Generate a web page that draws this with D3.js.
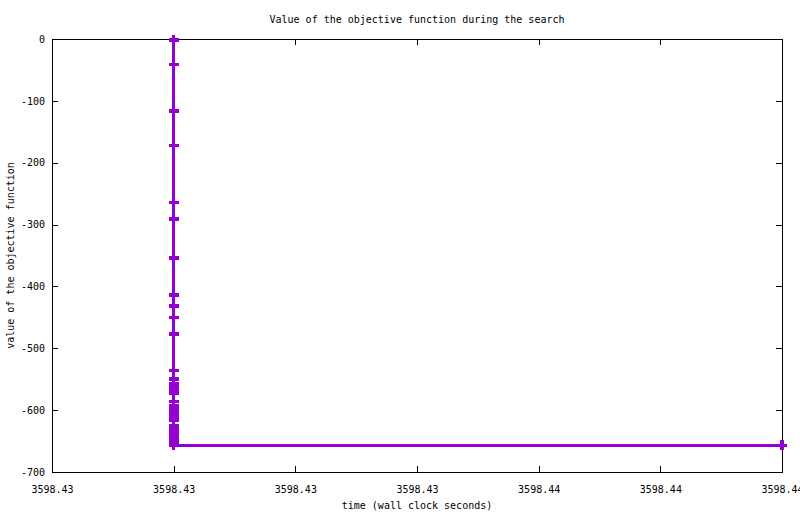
<!DOCTYPE html>
<html lang="en">
<head>
<meta charset="utf-8">
<title>Objective function</title>
<script src="https://d3js.org/d3.v7.min.js"></script>
<style>
  body { margin: 0; background: #fff; }
  text { font-family: "DejaVu Sans Mono", "Liberation Mono", monospace; font-size: 10px; fill: #000; }
</style>
</head>
<body>
<div id="chart"></div>
<script>
// time (wall clock seconds) of each improvement
var times = [
  3598.430, 3598.430, 3598.430, 3598.430, 3598.430, 3598.430, 3598.430, 3598.430,
  3598.430, 3598.430, 3598.430, 3598.430, 3598.430, 3598.430, 3598.430, 3598.430,
  3598.430, 3598.430, 3598.430, 3598.430, 3598.430, 3598.430, 3598.430, 3598.430,
  3598.430, 3598.430, 3598.430, 3598.430, 3598.430, 3598.430, 3598.440
];
// value of the objective function
var values = [
  -2, -41, -116, -172, -264, -291, -354, -414,
  -432, -450, -477, -536, -550, -558, -563, -569,
  -573, -586, -593, -599, -605, -611, -617, -626,
  -631, -637, -643, -648, -654, -657, -657
];
var xTicks = [3598.428, 3598.430, 3598.432, 3598.434, 3598.436, 3598.438, 3598.440];
var yTicks = [0, -100, -200, -300, -400, -500, -600, -700];

var W = 800, H = 514;
var margin = {top: 39, right: 18, bottom: 42, left: 52};

var svg = d3.select("#chart").append("svg")
    .attr("width", W)
    .attr("height", H)
    .attr("shape-rendering", "crispEdges");

var x = d3.scaleLinear()
    .domain([3598.428, 3598.440])
    .range([margin.left, W - margin.right]);
var y = d3.scaleLinear()
    .domain([-700, 0])
    .range([H - margin.bottom, margin.top]);

// axes, ticks pointing inward, mirrored on top and right
var fmtX = d3.format(".2f");
svg.append("g")
    .attr("transform", "translate(0," + (H - margin.bottom) + ")")
    .call(d3.axisBottom(x).tickValues(xTicks).tickSize(-6).tickSizeOuter(0)
        .tickPadding(14).tickFormat(fmtX))
    .call(g => g.select(".domain").remove());
svg.append("g")
    .attr("transform", "translate(0," + margin.top + ")")
    .call(d3.axisTop(x).tickValues(xTicks).tickSize(-6).tickSizeOuter(0).tickFormat(""))
    .call(g => g.select(".domain").remove());
svg.append("g")
    .attr("transform", "translate(" + margin.left + ",0)")
    .call(d3.axisLeft(y).tickValues(yTicks).tickSize(-6).tickSizeOuter(0)
        .tickPadding(7).tickFormat(d => String(d)))
    .call(g => g.select(".domain").remove());
svg.append("g")
    .attr("transform", "translate(" + (W - margin.right) + ",0)")
    .call(d3.axisRight(y).tickValues(yTicks).tickSize(-6).tickSizeOuter(0).tickFormat(""))
    .call(g => g.select(".domain").remove());

svg.selectAll(".tick text")
    .style("font-family", "'DejaVu Sans Mono', monospace")
    .style("font-size", "10px");

// frame
svg.append("rect")
    .attr("x", margin.left)
    .attr("y", margin.top)
    .attr("width", W - margin.left - margin.right)
    .attr("height", H - margin.top - margin.bottom)
    .attr("fill", "none")
    .attr("stroke", "#000")
    .attr("stroke-width", 1);

var pts = times.map((t, i) => [t, values[i]]);
var purple = "#9400d3";

svg.append("path")
    .datum(pts)
    .attr("fill", "none")
    .attr("stroke", purple)
    .attr("stroke-width", 3.5)
    .attr("d", d3.line().x(d => x(d[0])).y(d => y(d[1])));

svg.selectAll(".pt")
    .data(pts)
    .enter().append("path")
    .attr("class", "pt")
    .attr("transform", d => "translate(" + x(d[0]) + "," + y(d[1]) + ")")
    .attr("d", "M-5,0H5M0,-5V5")
    .attr("stroke", purple)
    .attr("stroke-width", 3.5)
    .attr("fill", "none");

// titles
var cx = (margin.left + W - margin.right) / 2;
svg.append("text")
    .attr("x", cx).attr("y", 23)
    .attr("text-anchor", "middle")
    .text("Value of the objective function during the search");
svg.append("text")
    .attr("x", cx).attr("y", 509)
    .attr("text-anchor", "middle")
    .text("time (wall clock seconds)");
svg.append("text")
    .attr("transform", "translate(14," + ((margin.top + H - margin.bottom) / 2) + ") rotate(-90)")
    .attr("text-anchor", "middle")
    .text("value of the objective function");
</script>
</body>
</html>
